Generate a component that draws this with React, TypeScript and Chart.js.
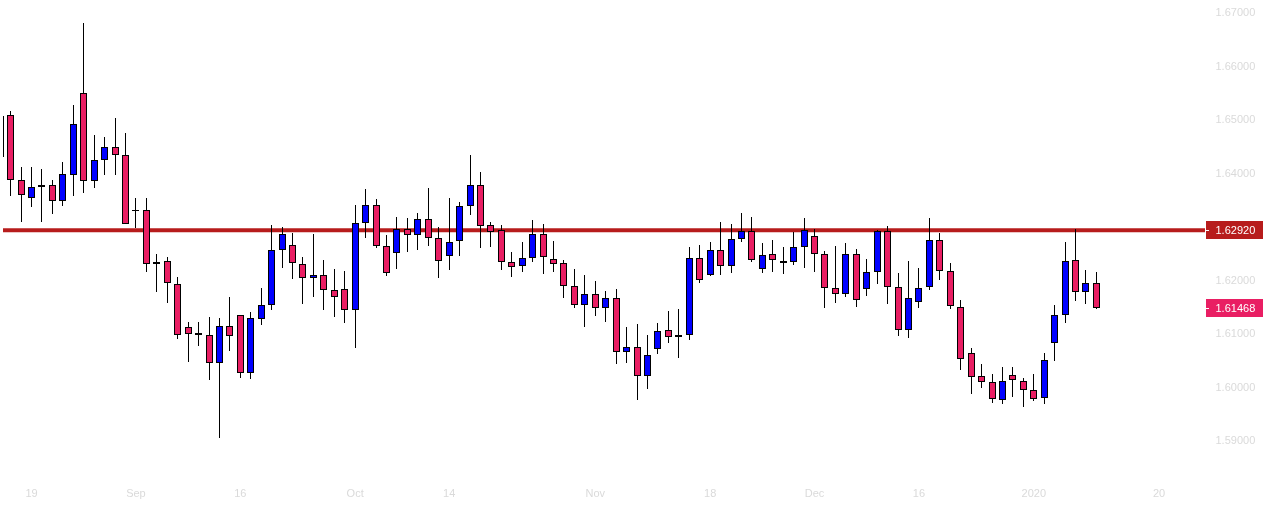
import React, { useEffect, useRef } from 'react';
import { Chart, registerables } from 'chart.js';

Chart.register(...registerables);

// first bar sits mostly off the left edge, bar 0 in the tick list is index 1 here
const opens = [
  1.65056, 1.65069, 1.63854, 1.63518, 1.63733, 1.63761, 1.63462, 1.63948, 1.6548, 1.63836, 1.64228, 1.64471, 1.64321, 1.63299, 1.63293, 1.62284,
  1.6234, 1.6191, 1.61107, 1.60995, 1.60957, 1.60434, 1.61125, 1.61331, 1.60247, 1.61256, 1.61518, 1.62546, 1.62639, 1.62284, 1.62023, 1.62079,
  1.61798, 1.61817, 1.61425, 1.63051, 1.63387, 1.62621, 1.6249, 1.62938, 1.62826, 1.63125, 1.6277, 1.62434, 1.62714, 1.63368, 1.63761, 1.63013,
  1.6292, 1.62322, 1.62247, 1.62396, 1.62845, 1.62378, 1.62303, 1.61873, 1.61518, 1.61724, 1.61462, 1.61649, 1.6064, 1.60733, 1.60191, 1.60696,
  1.61051, 1.6092, 1.60957, 1.62396, 1.62079, 1.62546, 1.62247, 1.62751, 1.62901, 1.62191, 1.62471, 1.6234, 1.62322, 1.62602, 1.62808, 1.62471,
  1.61836, 1.61724, 1.62471, 1.61817, 1.62135, 1.62901, 1.61854, 1.61051, 1.61574, 1.61854, 1.62733, 1.62153, 1.61481, 1.60621, 1.60191, 1.60079,
  1.59742, 1.6021, 1.60097, 1.59929, 1.5978, 1.60808, 1.61331, 1.62359, 1.61761, 1.61929,
];
const highs = [
  1.65056, 1.65149, 1.64103, 1.64103, 1.64065, 1.6386, 1.64191, 1.65256, 1.66794, 1.64701, 1.64663, 1.65019, 1.64738, 1.63523, 1.63523, 1.62477,
  1.62421, 1.62047, 1.61206, 1.61206, 1.61299, 1.61281, 1.61673, 1.61331, 1.61393, 1.61841, 1.63019, 1.62976, 1.62869, 1.62421, 1.62851, 1.62365,
  1.62196, 1.62159, 1.63393, 1.63692, 1.63505, 1.62832, 1.63168, 1.6315, 1.63243, 1.6371, 1.62981, 1.63523, 1.63449, 1.64327, 1.64009, 1.63075,
  1.63019, 1.62514, 1.62701, 1.63112, 1.63037, 1.6272, 1.62359, 1.62196, 1.62084, 1.61972, 1.61785, 1.61823, 1.61112, 1.61168, 1.60963, 1.61187,
  1.61411, 1.61449, 1.62608, 1.62645, 1.62701, 1.63075, 1.63037, 1.63243, 1.63168, 1.62682, 1.62738, 1.62608, 1.62888, 1.6315, 1.62944, 1.62533,
  1.62626, 1.62682, 1.6257, 1.62378, 1.62925, 1.63, 1.62122, 1.62346, 1.62215, 1.6315, 1.62869, 1.62309, 1.61617, 1.6072, 1.60421, 1.60234,
  1.60365, 1.60365, 1.60159, 1.60234, 1.60626, 1.61524, 1.62701, 1.62944, 1.62178, 1.6214,
];
const lows = [
  1.6429, 1.63566, 1.6308, 1.63361, 1.6308, 1.6323, 1.6338, 1.63566, 1.63622, 1.63716, 1.63959, 1.63959, 1.63032, 1.62968, 1.62146, 1.61772,
  1.61567, 1.60894, 1.60464, 1.60763, 1.60127, 1.59043, 1.60669, 1.60165, 1.60146, 1.61155, 1.6143, 1.62221, 1.62015, 1.61548, 1.61679, 1.61436,
  1.61305, 1.61193, 1.60726, 1.62781, 1.62594, 1.62071, 1.62202, 1.6252, 1.62557, 1.62632, 1.62034, 1.62183, 1.62445, 1.63211, 1.62594, 1.62613,
  1.62183, 1.62052, 1.62146, 1.62333, 1.62109, 1.62146, 1.6166, 1.61473, 1.61118, 1.61324, 1.61211, 1.60426, 1.60445, 1.59754, 1.59959, 1.60613,
  1.60819, 1.60539, 1.60875, 1.6194, 1.62071, 1.6209, 1.62127, 1.62707, 1.62333, 1.62127, 1.62146, 1.62109, 1.62277, 1.62221, 1.62146, 1.61473,
  1.61567, 1.61679, 1.61492, 1.61697, 1.61922, 1.61548, 1.6095, 1.60912, 1.61473, 1.6181, 1.61996, 1.61454, 1.60314, 1.59866, 1.59978, 1.59698,
  1.59679, 1.5981, 1.59623, 1.59735, 1.59679, 1.60483, 1.61193, 1.61604, 1.61548, 1.61454,
];
const closes = [
  1.6429, 1.63854, 1.63574, 1.63723, 1.63757, 1.63462, 1.63966, 1.64901, 1.63836, 1.64228, 1.64471, 1.64321, 1.63032, 1.6328, 1.62284, 1.62322,
  1.61929, 1.60957, 1.60976, 1.60957, 1.60434, 1.61125, 1.60939, 1.60247, 1.61275, 1.61518, 1.62546, 1.62845, 1.62303, 1.62023, 1.62079, 1.61798,
  1.61668, 1.61425, 1.63051, 1.63387, 1.62621, 1.62116, 1.62938, 1.62826, 1.63125, 1.6277, 1.6234, 1.62695, 1.63368, 1.63761, 1.62994, 1.62882,
  1.62322, 1.62228, 1.62396, 1.62845, 1.62415, 1.62284, 1.61873, 1.61518, 1.61724, 1.61462, 1.61649, 1.6064, 1.60733, 1.60191, 1.60583, 1.61032,
  1.6092, 1.60957, 1.62396, 1.61985, 1.62546, 1.62247, 1.62751, 1.62901, 1.62359, 1.62452, 1.62359, 1.62303, 1.62602, 1.6292, 1.62471, 1.61836,
  1.61724, 1.62471, 1.61611, 1.62135, 1.62901, 1.61854, 1.61051, 1.61649, 1.61836, 1.62733, 1.62153, 1.61499, 1.60509, 1.60172, 1.60079, 1.59761,
  1.60097, 1.60116, 1.59929, 1.59761, 1.6049, 1.61331, 1.6234, 1.61761, 1.61929, 1.61468,
];

const priceTicks = [1.59, 1.6, 1.61, 1.62, 1.64, 1.65, 1.66, 1.67];
const dateTickBars = [2, 12, 22, 33, 42, 56, 67, 77, 87, 98, 110];
const dateTickLabels = ['19', 'Sep', '16', 'Oct', '14', 'Nov', '18', 'Dec', '16', '2020', '20'];

const supportLevel = 1.6292;
const lastPrice = 1.61468;

const UP = '#0000ff';
const DOWN = '#e91e63';
const LEVEL = '#b71c1c';
const AXIS_TEXT = '#dadada';
const FONT = "'Liberation Sans', sans-serif";

const xMin = -0.7328;
const xMax = 114.4;

// keep wicks and bodies on whole pixels like the original
const snapBars = {
  id: 'snapBars',
  beforeDatasetsDraw(chart: any) {
    chart.data.datasets.forEach((ds: any, i: number) => {
      if (ds.type === 'line') return;
      chart.getDatasetMeta(i).data.forEach((bar: any) => {
        bar.x = Math.floor(bar.x) + 0.5;
        bar.y = Math.round(bar.y);
        bar.base = Math.round(bar.base);
      });
    });
  },
};

const priceTags = {
  id: 'priceTags',
  afterDraw(chart: any) {
    const { ctx, scales } = chart;
    const tag = (value: number, color: string) => {
      const y = Math.round(scales.y.getPixelForValue(value));
      ctx.save();
      ctx.fillStyle = color;
      ctx.fillRect(1206, y - 9, 57, 18);
      ctx.fillStyle = '#ffffff';
      ctx.fillRect(1206, y, 3, 1);
      ctx.font = `11px ${FONT}`;
      ctx.textBaseline = 'middle';
      ctx.textAlign = 'left';
      ctx.fillText(value.toFixed(5), 1215.5, y + 0.5);
      ctx.restore();
    };
    tag(supportLevel, LEVEL);
    tag(lastPrice, DOWN);
  },
};

const App: React.FC = () => {
  const chartRef = useRef<HTMLCanvasElement>(null);

  useEffect(() => {
    document.body.style.margin = '0';
    const ctx = chartRef.current?.getContext('2d');
    if (!ctx) return;

    const barIndex = opens.map((_, i) => i - 1);

    const chart = new Chart(ctx, {
      type: 'bar',
      data: {
        datasets: [
          {
            type: 'bar',
            label: 'Body',
            data: barIndex.map((x, i) => ({ x, y: [opens[i], closes[i]] })),
            backgroundColor: opens.map((o, i) => (closes[i] >= o ? UP : DOWN)),
            borderColor: '#000000',
            borderWidth: 1,
            borderSkipped: false,
            barThickness: 7,
            inflateAmount: 0,
            grouped: false,
            order: 1,
          },
          {
            type: 'bar',
            label: 'Wick',
            data: barIndex.map((x, i) => ({ x, y: [lows[i], highs[i]] })),
            backgroundColor: '#000000',
            borderWidth: 0,
            barThickness: 1,
            inflateAmount: 0,
            grouped: false,
            order: 2,
          },
          {
            type: 'line',
            label: 'Level',
            data: [
              { x: xMin, y: supportLevel },
              { x: xMax, y: supportLevel },
            ],
            borderColor: LEVEL,
            borderWidth: 4,
            pointRadius: 0,
            order: 3,
          },
        ] as any,
      },
      options: {
        responsive: false,
        animation: false,
        layout: { autoPadding: false, padding: { left: 3, right: 0, top: 0, bottom: 0 } },
        plugins: {
          legend: { display: false },
          tooltip: { enabled: false },
        },
        scales: {
          x: {
            type: 'linear',
            offset: false,
            min: xMin,
            max: xMax,
            grid: { display: false, drawTicks: false, offset: false },
            border: { display: false },
            afterBuildTicks: (axis: any) => {
              axis.ticks = dateTickBars.map((value) => ({ value }));
            },
            afterFit: (axis: any) => {
              axis.height = 31;
              axis.paddingLeft = 0;
              axis.paddingRight = 0;
            },
            ticks: {
              autoSkip: false,
              maxRotation: 0,
              padding: 7,
              color: AXIS_TEXT,
              font: { family: FONT, size: 11 },
              callback: (value: any) => dateTickLabels[dateTickBars.indexOf(value)],
            },
          },
          y: {
            type: 'linear',
            position: 'right',
            min: 1.58252,
            max: 1.67224,
            grid: { display: false, drawTicks: false },
            border: { display: false },
            afterBuildTicks: (axis: any) => {
              axis.ticks = priceTicks.map((value) => ({ value }));
            },
            afterFit: (axis: any) => {
              axis.width = 62;
              axis.paddingTop = 0;
              axis.paddingBottom = 0;
            },
            ticks: {
              padding: 10.5,
              labelOffset: 1,
              color: AXIS_TEXT,
              font: { family: FONT, size: 11 },
              callback: (value: any) => Number(value).toFixed(5),
            },
          },
        },
      } as any,
      plugins: [snapBars, priceTags],
    });

    return () => {
      chart.destroy();
    };
  }, []);

  return <canvas ref={chartRef} width={1267} height={511} style={{ display: 'block' }} />;
};

export default App;
